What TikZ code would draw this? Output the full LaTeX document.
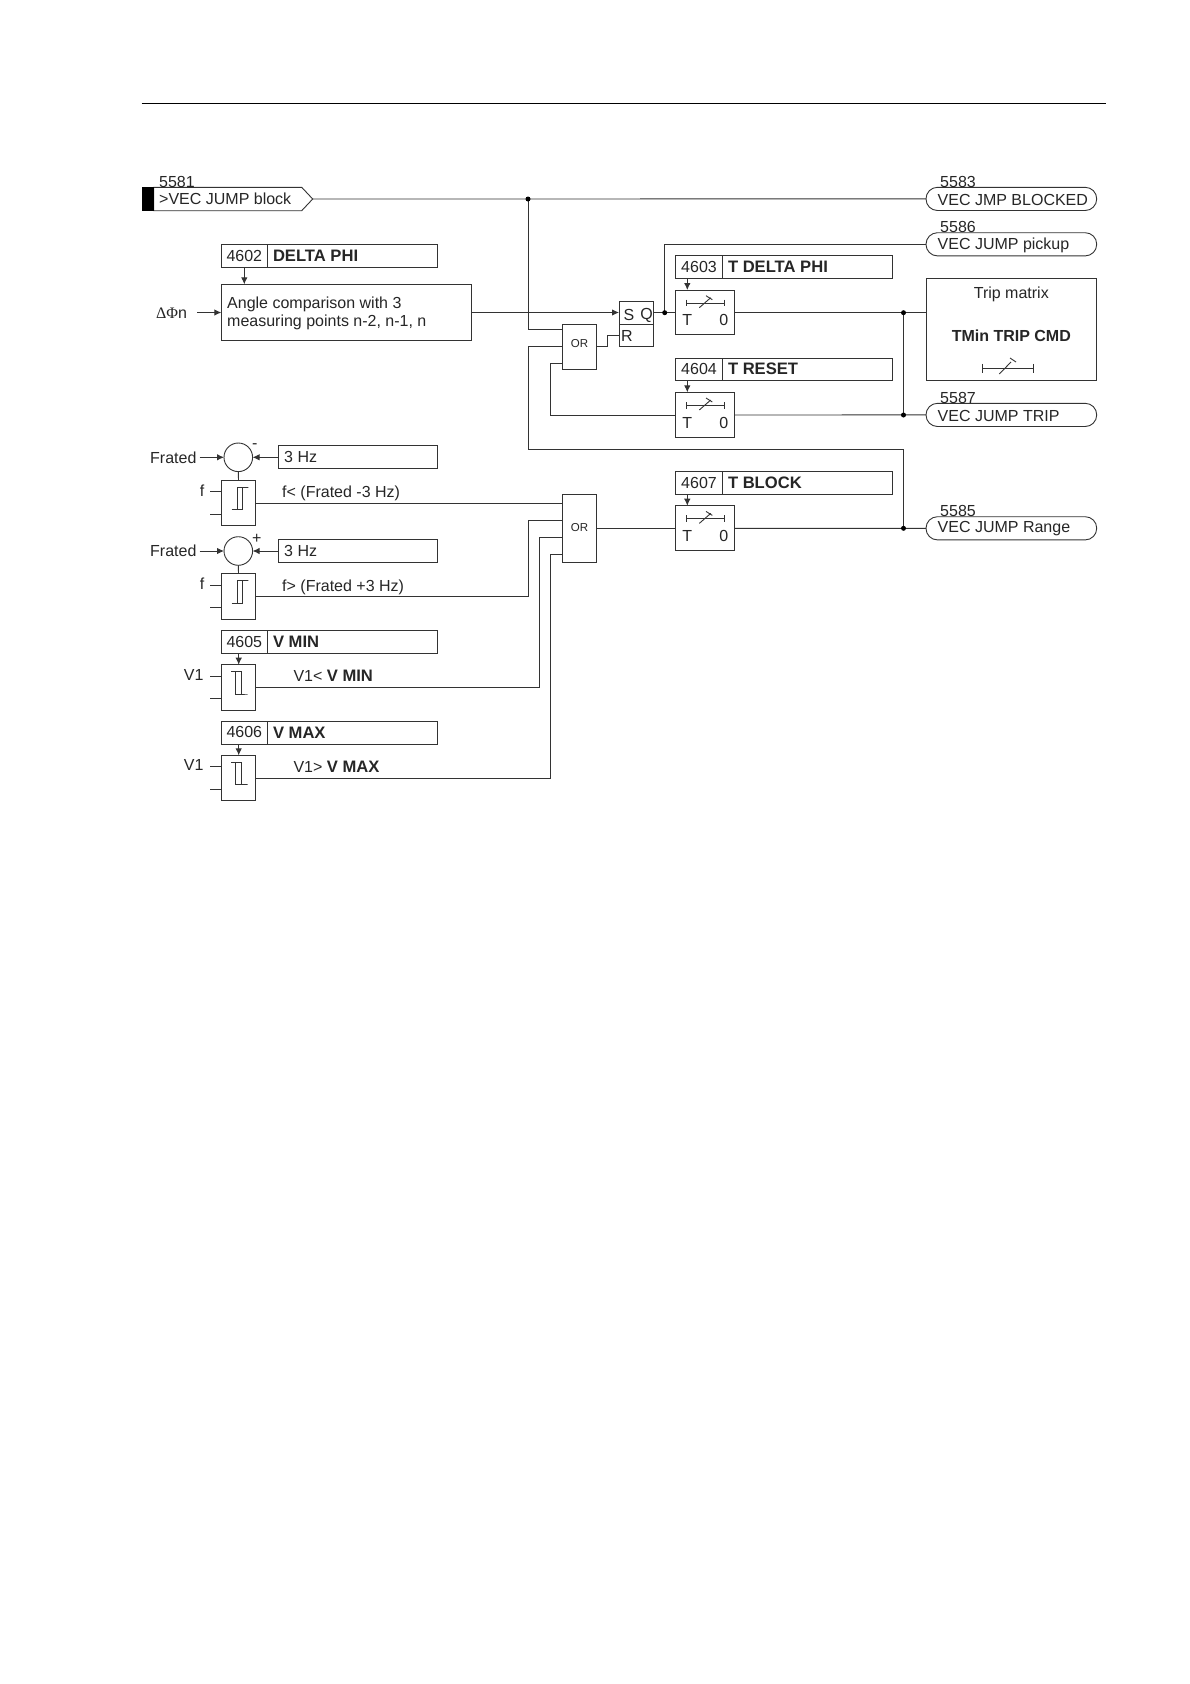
\documentclass[tikz,border=0pt]{standalone}
\usepackage{fontspec}
\setmainfont{Liberation Sans}
\newfontfamily\serifgreek{Liberation Serif}
\usetikzlibrary{arrows.meta}
\definecolor{ln}{gray}{0.2}
\tikzset{
  wire/.style={draw=ln,line width=0.9pt},
  sig/.style={wire,-{Latex[length=7pt,width=6.5pt]}},
  box/.style={draw=ln,line width=0.9pt,fill=white,inner sep=0pt,outer sep=0pt,anchor=north west},
  dotc/.style={circle,fill=black,inner sep=0pt,minimum size=5pt},
  lab/.style={font=\fontsize{16}{18}\selectfont,text=black!85,inner sep=0pt},
  num/.style={lab,anchor=west},
  bold/.style={lab,font=\fontsize{16.6}{18}\selectfont\bfseries,anchor=west},
  orlab/.style={lab,font=\fontsize{11.5}{13}\selectfont},
}
\begin{document}
\begin{tikzpicture}[x=1pt,y=-1pt]
\useasboundingbox (0,0) rectangle (1190,1684);
% page header rule
\coordinate (hl) at (141.5,103.4); \coordinate (hr) at (1105.5,103.4);
\draw[draw=black,line width=1pt] (hl) -- (hr);

% junctions
\coordinate (j1) at (528,199);
\coordinate (j2) at (664.7,312.7);
\coordinate (j3) at (903.5,312.7);
\coordinate (j4) at (903.5,415);
\coordinate (j5) at (903.5,528.3);

% input 5581
\draw[wire,fill=white] (153.7,187.3) -- (301.7,187.3) -- (312.7,199) -- (301.7,210.7) -- (153.7,210.7) -- cycle;
\coordinate (in1) at (312.7,199);
\fill[black] (141.5,187.3) rectangle (153.7,210.7);
\node[num] (n5581) at (159,182) {5581};
\node[num] (t5581) at (159,199.2) {>VEC JUMP block};

% outputs
\foreach \nm/\top/\num/\txt in {o83/187.3/5583/VEC JMP BLOCKED,o86/232.7/5586/VEC JUMP pickup,o87/403.3/5587/VEC JUMP TRIP,o85/516.7/5585/VEC JUMP Range}{
  \node[box,rounded corners=11.5pt,minimum width=170.7pt,minimum height=23.2pt] (\nm) at (926,\top) {};
  \node[num] (\nm t) at (937.5,\top+12.3) {\txt};
  \node[num] (\nm n) at (940,\top-5.6) {\num};
}

% parameter boxes with number
\foreach \nm/\xa/\xb/\xc/\ya/\yb/\num/\txt in {
  p02/221.3/267.3/437.7/244.3/267.3/4602/DELTA PHI,
  p03/675.7/722.3/892/255.7/278.3/4603/T DELTA PHI,
  p04/675.7/722.3/892/358/380.7/4604/T RESET,
  p07/675.7/722.3/892/471.7/494/4607/T BLOCK,
  p05/221.3/267.3/437.7/630.7/653.3/4605/V MIN,
  p06/221.3/267.3/437.7/721.3/744/4606/V MAX}{
  \node[box,minimum width={\xc pt-\xa pt},minimum height={\yb pt-\ya pt}] (\nm) at (\xa,\ya) {};
  \draw[wire] (\xb,\ya) -- (\xb,\yb);
  \node[lab] (\nm n) at ({(\xa+\xb)/2},{(\ya+\yb)/2-0.3}) {\num};
  \node[bold] (\nm t) at (\xb+5.5,{(\ya+\yb)/2-0.3}) {\txt};
}

% angle comparison
\node[box,minimum width=250.4pt,minimum height=56.4pt] (ang) at (221.3,284.3) {};
\node[lab,anchor=west,align=left] (angt) at (227,313.3) {\fontsize{16}{20.5}\selectfont Angle comparison with 3\\measuring points n-2, n-1, n};
\node[lab,anchor=west] (dphi) at (156,313) {\serifgreek ΔΦ\normalfont n};
\draw[sig] (197,0 |- ang.west) -- (ang.west);
\draw[sig] (244.3,0 |- p02.south) -- (244.3,0 |- ang.north);

% SR
\node[box,minimum width=34.3pt,minimum height=45pt] (sr) at (619,301.7) {};
\draw[wire] (sr.west |- 0,324) -- (sr.east |- 0,324);
\node[lab] (srs) at (629,315) {S};
\node[lab] (srq) at (646.5,315) {Q};
\node[lab,anchor=west] (srr) at (621,335.5) {R};

% OR gates
\node[box,minimum width=34.4pt,minimum height=45.3pt] (or1) at (562.3,324) {};
\node[orlab] (or1t) at (579.5,343.5) {OR};
\node[box,minimum width=34.4pt,minimum height=68pt] (or2) at (562.3,494.3) {};
\node[orlab] (or2t) at (579.5,528) {OR};

% Timers
\foreach \nm/\ya/\pp in {t3/290/p03,t4/392.3/p04,t7/505.7/p07}{
  \node[box,minimum width=59pt,minimum height=44.7pt] (\nm) at (675.7,\ya) {};
  \draw[wire] (686.7,\ya+13) -- (724.7,\ya+13);
  \draw[wire] (686.7,\ya+9.7) -- (686.7,\ya+16.3);
  \draw[wire] (724.7,\ya+9.7) -- (724.7,\ya+16.3);
  \draw[wire] (699.3,\ya+17.7) -- (710.7,\ya+7.7);
  \draw[wire] (706,\ya+5.7) -- (712.3,\ya+9.7);
  \node[lab] (\nm T) at (687.3,\ya+30.3) {T};
  \node[lab] (\nm z) at (723.7,\ya+30.3) {0};
  \draw[sig] (687.3,0 |- \pp.south) -- (687.3,0 |- \nm.north);
}

% Trip matrix
\node[box,minimum width=170.7pt,minimum height=102pt] (trip) at (926,278.7) {};
\node[lab] (tript) at (1011.3,294.5) {Trip matrix};
\node[lab,font=\fontsize{16}{18}\selectfont\bfseries] (tripb) at (1011.3,335.5) {TMin TRIP CMD};
\draw[wire] (982.7,368.3) -- (1033.3,368.3);
\draw[wire] (982.7,363.8) -- (982.7,372.8);
\draw[wire] (1033.3,363.8) -- (1033.3,372.8);
\draw[wire] (999.3,374) -- (1011,362);
\draw[wire] (1010,358) -- (1016,362);

% threshold blocks
\foreach \nm/\ya/\lb/\kind in {tr1/480.3/f/0,tr2/573.7/f/0,tr3/664.7/V1/1,tr4/755.3/V1/1}{
  \node[box,minimum width=34.4pt,minimum height=45.4pt] (\nm) at (221.3,\ya) {};
  \draw[wire] (210,\ya+11.4) -- (\nm.west |- 0,\ya+11.4);
  \draw[wire] (210,\ya+34) -- (\nm.west |- 0,\ya+34);
  \ifnum\kind=0
    \draw[wire] (231.5,\ya+29.5) -- (242.3,\ya+29.5) -- (242.3,\ya+7) -- (248.3,\ya+7) -- (237,\ya+7) -- (237,\ya+29.5);
    \node[lab] (\nm l) at (202,\ya+10.5) {\lb};
  \else
    \draw[wire] (231,\ya+7) -- (241.5,\ya+7) -- (241.5,\ya+29.3) -- (247.7,\ya+29.3) -- (235.7,\ya+29.3) -- (235.7,\ya+7);
    \node[lab] (\nm l) at (193.7,\ya+10) {\lb};
  \fi
}

% comparators
\foreach \nn/\cy/\sgn/\sx/\sy/\tt in {a/457.3/-/254.7/446/tr1,b/551/+/256.7/539.3/tr2}{
  \node[box,anchor=center,circle,minimum size=28.6pt] (c\nn) at (238.3,\cy) {};
  \node[lab,anchor=west] (f\nn) at (150,\cy) {Frated};
  \draw[sig] (199.7,0 |- c\nn.west) -- (c\nn.west);
  \node[lab] (s\nn) at (\sx,\sy) {\sgn};
  \node[box,minimum width=159.4pt,minimum height=22.7pt] (h\nn) at (278.3,\cy-11.5) {};
  \node[num] (h\nn t) at (284,\cy) {3 Hz};
  \draw[sig] (h\nn.west |- c\nn.east) -- (c\nn.east);
  \draw[wire] (c\nn.south) -- (\tt.north);
}
\node[num] (l1) at (282,493.5) {f< (Frated -3 Hz)};
\node[num] (l2) at (282,587) {f> (Frated +3 Hz)};
\node[num] (l3) at (293.3,676) {V1< {\fontsize{16.6}{18}\selectfont\bfseries V MIN}};
\node[num] (l4) at (293.3,767) {V1> {\fontsize{16.6}{18}\selectfont\bfseries V MAX}};
\draw[sig] (238.7,0 |- p05.south) -- (238.7,0 |- tr3.north);
\draw[sig] (238.7,0 |- p06.south) -- (238.7,0 |- tr4.north);

% connectors
\draw[wire] (in1) -- (o83.west);
\draw[wire] (j1) |- (or1.west |- 0,329.7);
\draw[sig] (ang.east) -- (sr.west |- ang.east);
\draw[wire] (or1.east |- 0,346.7) -- (607.7,346.7) -- (607.7,335.3) -- (sr.west |- 0,335.3);
\draw[wire] (sr.east |- j2) -- (t3.west |- j2);
\draw[wire] (j2) |- (o86.west);
\draw[wire] (t3.east |- j3) -- (trip.west |- j3);
\draw[wire] (t4.east |- j4) -- (o87.west);
\draw[wire] (j3) -- (j4);
\draw[wire] (or1.west |- 0,363.7) -- (550.7,363.7) -- (550.7,415) -- (t4.west |- 0,415);
\draw[wire] (or1.west |- 0,346.7) -- (528,346.7) -- (528,449) -- (903.5,449) -- (j5);
\draw[wire] (or2.east |- j5) -- (t7.west |- j5);
\draw[wire] (t7.east |- j5) -- (o85.west);
\draw[wire] (tr1.east |- 0,503) -- (or2.west |- 0,503);
\draw[wire] (tr2.east |- 0,596.3) -- (528.3,596.3) -- (528.3,520) -- (or2.west |- 0,520);
\draw[wire] (tr3.east |- 0,687.3) -- (539.3,687.3) -- (539.3,537) -- (or2.west |- 0,537);
\draw[wire] (tr4.east |- 0,778) -- (550.7,778) -- (550.7,554) -- (or2.west |- 0,554);

\foreach \c in {j1,j2,j3,j4,j5} \node[dotc] at (\c) {};
\end{tikzpicture}
\end{document}
